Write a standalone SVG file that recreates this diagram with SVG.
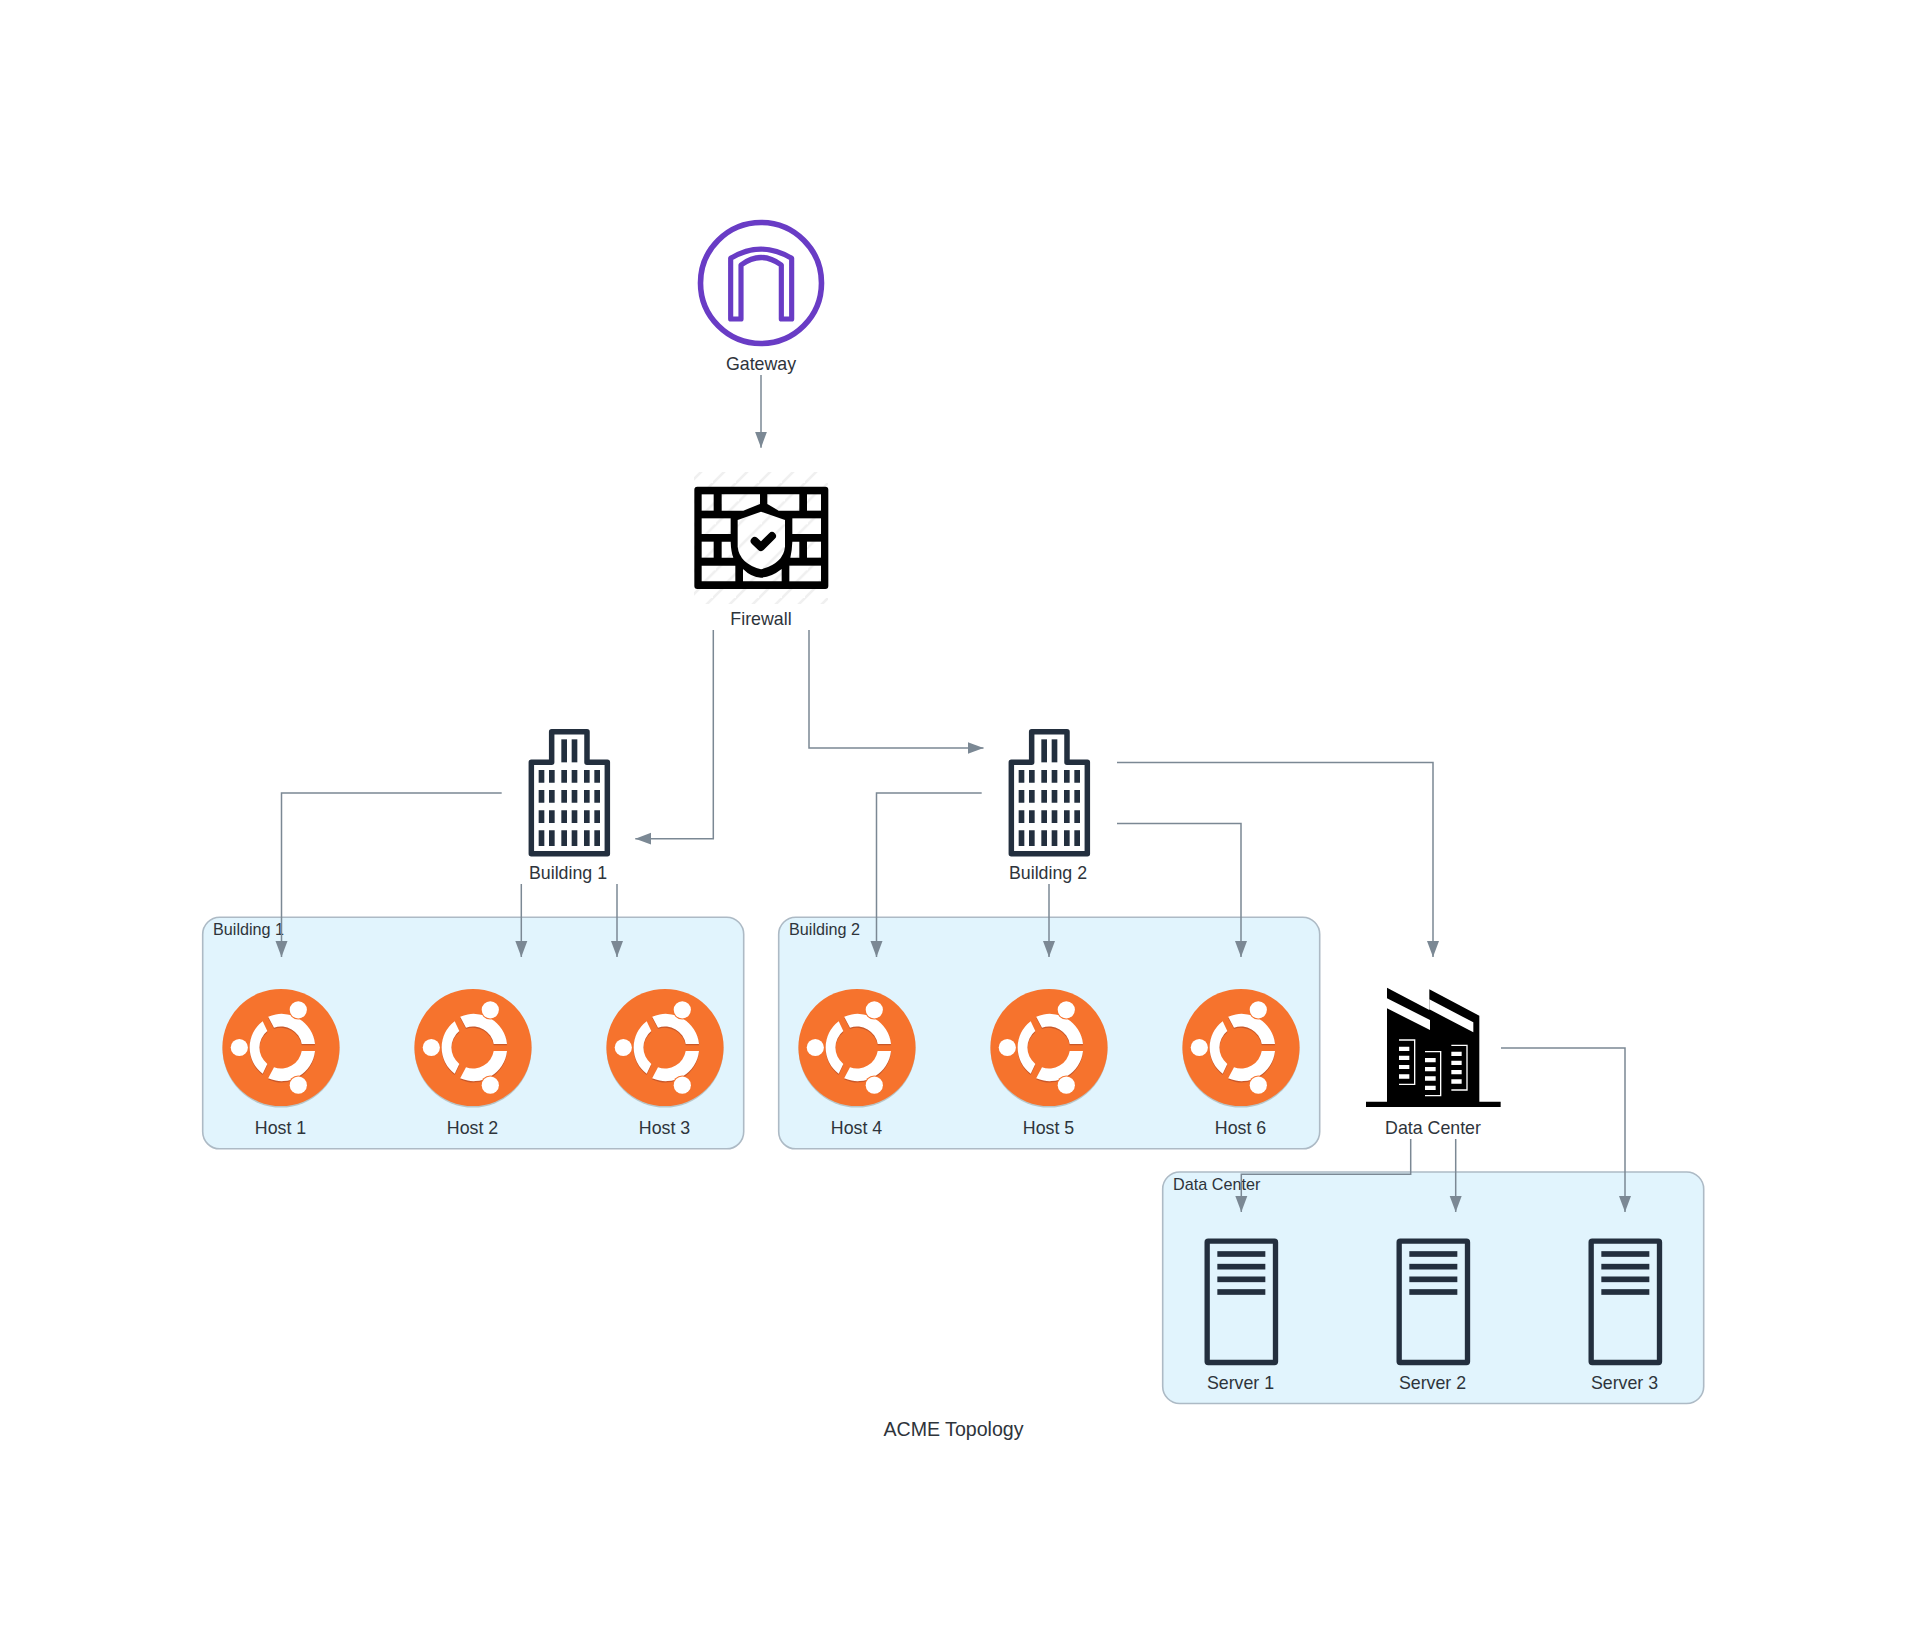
<svg xmlns="http://www.w3.org/2000/svg" width="1907" height="1640" viewBox="0 0 1907 1640">
<style>
text{font-family:"Liberation Sans",Arial,sans-serif;fill:#2e343b}
.lbl{font-size:17.8px;text-anchor:middle}
.ctl{font-size:16.2px}
.title{font-size:19.6px;text-anchor:middle}
.box{fill:#e1f4fd;stroke:#adbac5;stroke-width:1.6}
.edge{fill:none;stroke:#7b8894;stroke-width:1.5;marker-end:url(#arrow)}
.dark{fill:#232f3e}
.w{fill:#fff}
.brick{fill:url(#hatch3)}
</style>
<defs>
<marker id="arrow" markerUnits="userSpaceOnUse" markerWidth="17" markerHeight="14" refX="16" refY="7" orient="auto"><polygon points="0,1 16,7 0,13" fill="#7b8894"/></marker>
<pattern id="hatch" patternUnits="userSpaceOnUse" width="23" height="23"><rect width="23" height="23" fill="#fff"/><path d="M-6,6 L6,-6 M-6,29 L29,-6" stroke="#f0f0f0" stroke-width="2.6"/></pattern>
<pattern id="hatch3" patternUnits="userSpaceOnUse" width="69" height="69" patternTransform="translate(-660,-200)"><rect width="69" height="69" fill="#fff"/><path d="M-18,18 L18,-18 M-18,87 L87,-18" stroke="#f0f0f0" stroke-width="7.8"/></pattern>
<g id="ubuntu">
<circle cx="0" cy="1.7" r="58.4" fill="#b8c6c8"/>
<circle r="58.6" fill="#f6732d"/>
<g fill="#c9582a" transform="translate(0,1.3)">
<path d="M34,-3.5 L20.7,-3.5 A21,21 0 0 0 -7,-19.8 L-12.8,-30.8 A33.5,33.5 0 0 1 34,-3.5Z"/>
<path d="M34,3.5 L20.7,3.5 A21,21 0 0 1 -7,19.8 L-12.8,30.8 A33.5,33.5 0 0 0 34,3.5Z"/>
<path d="M-18.3,-26.3 L-13.7,-16.4 A21,21 0 0 0 -13.7,16.4 L-18.3,26.3 A33,33 0 0 1 -18.3,-26.3Z"/>
</g>
<g class="w">
<path d="M34,-3.5 L20.7,-3.5 A21,21 0 0 0 -7,-19.8 L-12.8,-30.8 A33.5,33.5 0 0 1 34,-3.5Z"/>
<path d="M34,3.5 L20.7,3.5 A21,21 0 0 1 -7,19.8 L-12.8,30.8 A33.5,33.5 0 0 0 34,3.5Z"/>
<path d="M-18.3,-26.3 L-13.7,-16.4 A21,21 0 0 0 -13.7,16.4 L-18.3,26.3 A33,33 0 0 1 -18.3,-26.3Z"/>
</g>
<g fill="#f6732d"><circle cx="17.3" cy="-37.7" r="9.7"/><circle cx="17.3" cy="37.7" r="9.7"/><circle cx="-41.7" cy="0" r="9.7"/></g>
<g class="w"><circle cx="17.3" cy="-37.7" r="8.6"/><circle cx="17.3" cy="37.7" r="8.6"/><circle cx="-41.7" cy="0" r="8.6"/></g>
</g>
<g id="building" transform="scale(.33333)">
<path d="M154,157 H215 V65 H321 V157 H382 V431 H154Z" fill="none" stroke="#232f3e" stroke-width="16.5" stroke-linejoin="round"/>
<g class="dark" transform="translate(-1,0)">
<rect x="245" y="88" width="17" height="69"/><rect x="276" y="88" width="17" height="69"/>
<path d="M177,180h17v38h-17zM208,180h17v38h-17zM245,180h17v38h-17zM276,180h17v38h-17zM313,180h17v38h-17zM344,180h17v38h-17z"/>
<path d="M177,240h17v38h-17zM208,240h17v38h-17zM245,240h17v38h-17zM276,240h17v38h-17zM313,240h17v38h-17zM344,240h17v38h-17z"/>
<path d="M177,301h17v38h-17zM208,301h17v38h-17zM245,301h17v38h-17zM276,301h17v38h-17zM313,301h17v38h-17zM344,301h17v38h-17z"/>
<path d="M177,361h17v47h-17zM208,361h17v47h-17zM245,361h17v47h-17zM276,361h17v47h-17zM313,361h17v47h-17zM344,361h17v47h-17z"/>
</g>
</g>
<g id="server" transform="scale(.33333)">
<rect x="141.500" y="243.500" width="205" height="364" rx="3" fill="none" stroke="#232f3e" stroke-width="16"/>
<g class="dark"><rect x="172" y="273.500" width="144" height="17"/><rect x="172" y="311.500" width="144" height="17"/><rect x="172" y="349.500" width="144" height="17"/><rect x="172" y="387.500" width="144" height="17"/></g>
</g>
</defs>
<rect width="1907" height="1640" fill="#fff"/>

<g id="building1-container"><rect class="box" x="202.700" y="917.300" width="541" height="231.500" rx="17"/><text class="ctl" x="213" y="935">Building 1</text></g>
<g id="building2-container"><rect class="box" x="778.700" y="917.300" width="541" height="231.500" rx="17"/><text class="ctl" x="789" y="935">Building 2</text></g>
<g id="datacenter-container"><rect class="box" x="1162.700" y="1172" width="541" height="231.500" rx="17"/><text class="ctl" x="1173" y="1190">Data Center</text></g>

<g id="gateway">
<circle cx="761" cy="283" r="60.500" fill="none" stroke="#693cc5" stroke-width="5.600"/>
<path transform="translate(660,200) scale(.33333)" d="M212,357 V175 Q303,120 395,175 V357 H364 V195 Q303,150 243,195 V357Z" fill="none" stroke="#693cc5" stroke-width="15.500" stroke-linejoin="round"/>
<text class="lbl" x="761" y="370">Gateway</text>
</g>

<g id="firewall">
<rect x="694" y="472" width="134" height="132" fill="url(#hatch)"/>
<g transform="translate(660,200) scale(.33333)">
<rect x="103" y="860" width="402" height="307" rx="9" fill="#000"/>
<g class="brick">
<path d="M125,883h36v49h-36z"/><path d="M185,883h115v29l-50,20h-65z"/><path d="M322,883h96v49h-62l-34,-20z"/><path d="M441,883h42v49h-42z"/>
<path d="M125,955h87v47h-87z"/><path d="M397,955h86v47h-86z"/>
<path d="M125,1025h36v48h-36z"/><path d="M185,1025h27q1,30 8,48h-35z"/><path d="M397,1025h21v48h-27q5,-20 6,-48z"/><path d="M441,1025h42v48h-42z"/>
<path d="M125,1097h101v47h-101z"/><path d="M249,1107q25,25 54,26q30,-1 62,-26v37h-116z"/><path d="M388,1097h95v47h-95z"/>
</g>
<path d="M303,935 L375,960 V1040 Q370,1090 303,1108 Q238,1090 233,1040 V960Z" class="brick"/>
<path d="M284,1023 L303,1041 L336,1008" fill="none" stroke="#000" stroke-width="24" stroke-linecap="round" stroke-linejoin="round"/>
</g>
<text class="lbl" x="761" y="625">Firewall</text>
</g>

<g id="building1"><use href="#building" transform="translate(480,710)"/><text class="lbl" x="568" y="879">Building 1</text></g>
<g id="building2"><use href="#building" transform="translate(960,710)"/><text class="lbl" x="1048" y="879">Building 2</text></g>

<g id="datacenter">
<g transform="translate(1340,970) scale(.33333)">
<path d="M141,53 L268,120 V58 L418,137 V395 H482 V411 H78 V395 H141Z" fill="#000"/>
<path d="M141,85 L270,150 V180 L141,115Z M268,88 L400,157 V187 L268,118Z" fill="#fff"/>
<path d="M177,230h31v13h-31zM177,257h31v13h-31zM177,285h31v12h-31zM177,313h31v13h-31z" fill="#fff"/>
<path d="M255,264h32v13h-32zM255,291h32v13h-32zM255,319h32v13h-32zM255,347h32v13h-32z" fill="#fff"/>
<path d="M334,245h31v13h-31zM334,272h31v13h-31zM334,300h31v13h-31zM334,328h31v13h-31z" fill="#fff"/>
<path d="M177,210H224V343H177M255,245H302V377H255M334,226H381V360H334" fill="none" stroke="#fff" stroke-width="4"/>
</g>
<text class="lbl" x="1433" y="1134">Data Center</text>
</g>

<g id="host1"><use href="#ubuntu" x="281" y="1047.500"/><text class="lbl" x="280.500" y="1134">Host 1</text></g>
<g id="host2"><use href="#ubuntu" x="473" y="1047.500"/><text class="lbl" x="472.500" y="1134">Host 2</text></g>
<g id="host3"><use href="#ubuntu" x="665" y="1047.500"/><text class="lbl" x="664.500" y="1134">Host 3</text></g>
<g id="host4"><use href="#ubuntu" x="857" y="1047.500"/><text class="lbl" x="856.500" y="1134">Host 4</text></g>
<g id="host5"><use href="#ubuntu" x="1049" y="1047.500"/><text class="lbl" x="1048.500" y="1134">Host 5</text></g>
<g id="host6"><use href="#ubuntu" x="1241" y="1047.500"/><text class="lbl" x="1240.500" y="1134">Host 6</text></g>

<g id="server1"><use href="#server" transform="translate(1160,1160)"/><text class="lbl" x="1240.500" y="1389">Server 1</text></g>
<g id="server2"><use href="#server" transform="translate(1352,1160)"/><text class="lbl" x="1432.500" y="1389">Server 2</text></g>
<g id="server3"><use href="#server" transform="translate(1544,1160)"/><text class="lbl" x="1624.500" y="1389">Server 3</text></g>

<g id="connectors">
<path class="edge" d="M761,375V447.700"/>
<path class="edge" d="M713.300,630V838.700H635.300"/>
<path class="edge" d="M809,630V748H983.500"/>
<path class="edge" d="M501.700,793H281.500V957"/>
<path class="edge" d="M521.300,884V957"/>
<path class="edge" d="M617,884V957"/>
<path class="edge" d="M981.700,793H876.500V957"/>
<path class="edge" d="M1049,884V957"/>
<path class="edge" d="M1117,823.500H1241V957"/>
<path class="edge" d="M1117,762.500H1433V957"/>
<path class="edge" d="M1501,1048H1625V1212"/>
<path class="edge" d="M1410.700,1139V1174.300H1241.300V1212"/>
<path class="edge" d="M1455.700,1139V1212"/>
</g>
<text class="title" x="953.500" y="1436">ACME Topology</text>
</svg>
